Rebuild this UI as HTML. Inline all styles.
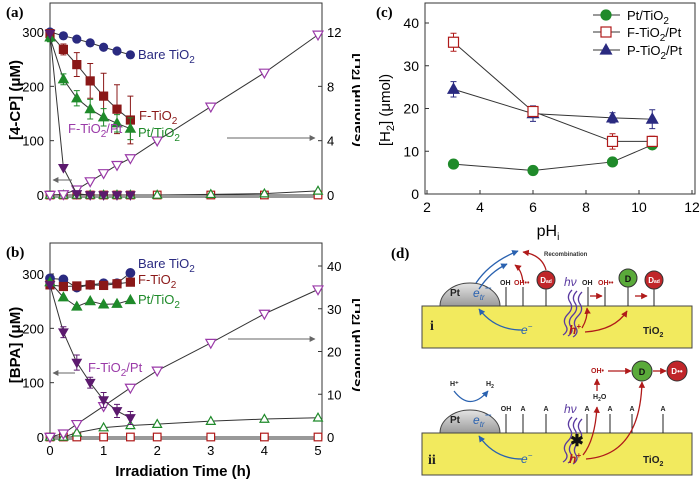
<!DOCTYPE html>
<html><head><meta charset="utf-8"><style>
html,body{margin:0;padding:0;background:#fff}
svg{display:block;font-family:"Liberation Sans",sans-serif}
</style></head><body>
<svg id="fig" width="700" height="485" viewBox="0 0 700 485" xmlns="http://www.w3.org/2000/svg">
<defs>
<clipPath id="clipA"><rect x="0" y="0" width="360" height="240"/></clipPath>
<clipPath id="clipB"><rect x="0" y="240" width="360" height="245"/></clipPath>
<linearGradient id="ptg" x1="0" y1="0" x2="0" y2="1"><stop offset="0" stop-color="#e4e4e4"/><stop offset="1" stop-color="#9a9a9a"/></linearGradient>
<marker id="ab" viewBox="0 0 10 10" refX="9" refY="5" markerWidth="5" markerHeight="5" orient="auto"><path d="M0,0L10,5L0,10z" fill="#2a62b0"/></marker>
<marker id="ar" viewBox="0 0 10 10" refX="9" refY="5" markerWidth="5" markerHeight="5" orient="auto"><path d="M0,0L10,5L0,10z" fill="#b01a1a"/></marker>
<marker id="ag" viewBox="0 0 10 10" refX="9" refY="5" markerWidth="6" markerHeight="6" orient="auto"><path d="M0,0L10,5L0,10z" fill="#666"/></marker>
</defs>
<g id="panelA" clip-path="url(#clipA)"></g>
<g id="panelB" clip-path="url(#clipB)"></g>
<g id="panelC"></g>

<!-- Panel (d) diagram -->
<g font-weight="bold">
<text x="391" y="258" font-family="Liberation Serif,serif" font-size="15">(d)</text>
<rect x="422" y="306" width="270" height="42" fill="#f2ea5e" stroke="#444" stroke-width="1"/>
<path d="M440,306 A30,23 0 0 1 500,306 Z" fill="url(#ptg)" stroke="#444"/>
<text x="450" y="296" font-size="10" fill="#222">Pt</text>
<text x="473" y="297" font-size="12" fill="#2a62b0" font-style="italic" font-weight="normal">e<tspan font-size="8" dy="3">tr</tspan><tspan dy="-8">−</tspan></text>
<g stroke="#222" stroke-width="1">
<line x1="506" y1="306" x2="506" y2="287"/><line x1="523" y1="306" x2="523" y2="287"/><line x1="546" y1="306" x2="546" y2="289"/>
<line x1="588" y1="306" x2="588" y2="287"/><line x1="605" y1="306" x2="605" y2="287"/><line x1="628" y1="306" x2="628" y2="287"/><line x1="654" y1="306" x2="654" y2="289"/>
</g>
<text x="500" y="285" font-size="7" fill="#222">OH</text><text x="514" y="285" font-size="7" fill="#b01a1a">OH••</text>
<text x="582" y="285" font-size="7" fill="#222">OH</text><text x="598" y="285" font-size="7" fill="#b01a1a">OH••</text>
<circle cx="546" cy="280" r="9" fill="#c0262a" stroke="#333"/><text x="546" y="283" font-size="8" fill="#fff" text-anchor="middle">D<tspan font-size="5">ad</tspan></text>
<circle cx="628" cy="278" r="9" fill="#5aaa3a" stroke="#333"/><text x="628" y="282" font-size="9" fill="#111" text-anchor="middle">D</text>
<circle cx="654" cy="280" r="9" fill="#c0262a" stroke="#333"/><text x="654" y="283" font-size="8" fill="#fff" text-anchor="middle">D<tspan font-size="5">ad</tspan></text>
<text x="564" y="286" font-size="12" fill="#5a3aa0" font-style="italic" font-weight="normal">hν</text>
<g fill="none" stroke="#5a3aa0" stroke-width="1.3">
<path d="M572,290 q-6,6 -2,12 q4,6 -2,12 q-6,6 -2,12 q3,5 -3,9"/><path d="M577,291 q-6,6 -2,12 q4,6 -2,12 q-6,6 -2,12 q3,5 -3,9"/><path d="M582,292 q-6,6 -2,12 q4,6 -2,12 q-6,6 -2,12 q3,5 -3,9"/>
</g>
<g fill="none" stroke="#2a62b0" stroke-width="1.3">
<path d="M476,283 Q490,262 518,251" marker-end="url(#ab)"/><path d="M479,289 Q490,272 507,264" marker-end="url(#ab)"/>
<path d="M522,330 Q495,330 479,309" marker-end="url(#ab)"/>
</g>
<g fill="none" stroke="#b01a1a" stroke-width="1.3">
<path d="M546,270 Q542,255 523,252" marker-end="url(#ar)"/><path d="M523,283 Q522,270 515,265" marker-end="url(#ar)"/>
<path d="M590,296 L602,296" marker-end="url(#ar)"/><path d="M635,296 L647,296" marker-end="url(#ar)"/>
<path d="M582,328 Q588,318 587,308" marker-end="url(#ar)"/><path d="M585,332 Q615,330 627,311" marker-end="url(#ar)"/>
</g>
<text x="544" y="256" font-size="6" fill="#333">Recombination</text>
<text x="430" y="330" font-family="Liberation Serif,serif" font-size="14" fill="#222">i</text>
<text x="521" y="334" font-size="12" fill="#2a62b0" font-style="italic" font-weight="normal">e<tspan dy="-5" font-size="8">−</tspan></text>
<text x="569" y="334" font-size="12" fill="#b01a1a" font-style="italic">h<tspan dy="-5" font-size="8">+</tspan></text>
<text x="643" y="334" font-size="10" fill="#222">TiO<tspan dy="3" font-size="7">2</tspan></text>
<rect x="422" y="433" width="270" height="42" fill="#f2ea5e" stroke="#444" stroke-width="1"/>
<path d="M440,433 A30,23 0 0 1 500,433 Z" fill="url(#ptg)" stroke="#444"/>
<text x="450" y="423" font-size="10" fill="#222">Pt</text>
<text x="473" y="424" font-size="12" fill="#2a62b0" font-style="italic" font-weight="normal">e<tspan font-size="8" dy="3">tr</tspan><tspan dy="-8">−</tspan></text>
<text x="450" y="386" font-size="7" fill="#222">H⁺</text><text x="486" y="386" font-size="7" fill="#222">H<tspan font-size="5" dy="2">2</tspan></text>
<path d="M454,391 Q470,412 488,391" fill="none" stroke="#2a62b0" stroke-width="1.3" marker-end="url(#ab)"/>
<g stroke="#222" stroke-width="1">
<line x1="506" y1="433" x2="506" y2="414"/><line x1="523" y1="433" x2="523" y2="414"/><line x1="546" y1="433" x2="546" y2="414"/><line x1="587" y1="433" x2="587" y2="414"/><line x1="610" y1="433" x2="610" y2="414"/><line x1="632" y1="433" x2="632" y2="414"/><line x1="663" y1="433" x2="663" y2="414"/>
</g>
<g font-size="7" fill="#222" text-anchor="middle"><text x="506" y="411">OH</text><text x="523" y="411">A</text><text x="546" y="411">A</text><text x="587" y="411">A</text><text x="610" y="411">A</text><text x="632" y="411">A</text><text x="663" y="411">A</text></g>
<text x="564" y="413" font-size="12" fill="#5a3aa0" font-style="italic" font-weight="normal">hν</text>
<g fill="none" stroke="#5a3aa0" stroke-width="1.3">
<path d="M572,417 q-6,6 -2,12 q4,6 -2,12 q-6,6 -2,12 q3,5 -3,9"/><path d="M577,418 q-6,6 -2,12 q4,6 -2,12 q-6,6 -2,12 q3,5 -3,9"/><path d="M582,419 q-6,6 -2,12 q4,6 -2,12 q-6,6 -2,12 q3,5 -3,9"/>
</g>
<text x="577" y="446" font-size="16" fill="#111" text-anchor="middle">✱</text>
<text x="593" y="399" font-size="7" fill="#222">H<tspan font-size="5" dy="2">2</tspan><tspan dy="-2">O</tspan></text>
<text x="591" y="373" font-size="7" fill="#b01a1a">OH•</text>
<circle cx="642" cy="371" r="10" fill="#5aaa3a" stroke="#333"/><text x="642" y="375" font-size="9" fill="#111" text-anchor="middle">D</text>
<circle cx="677" cy="371" r="10" fill="#c0262a" stroke="#333"/><text x="677" y="374" font-size="8" fill="#fff" text-anchor="middle">D••</text>
<g fill="none" stroke="#b01a1a" stroke-width="1.3">
<path d="M583,455 Q595,440 597,407" marker-end="url(#ar)"/><path d="M597,391 L597,379" marker-end="url(#ar)"/>
<path d="M608,371 L631,371" marker-end="url(#ar)"/><path d="M653,371 L666,371" marker-end="url(#ar)"/>
<path d="M586,459 Q640,455 642,382" marker-end="url(#ar)"/>
</g>
<text x="428" y="464" font-family="Liberation Serif,serif" font-size="14" fill="#222">ii</text>
<text x="521" y="463" font-size="12" fill="#2a62b0" font-style="italic" font-weight="normal">e<tspan dy="-5" font-size="8">−</tspan></text>
<path d="M522,459 Q495,459 479,436" fill="none" stroke="#2a62b0" stroke-width="1.3" marker-end="url(#ab)"/>
<text x="569" y="463" font-size="12" fill="#b01a1a" font-style="italic">h<tspan dy="-5" font-size="8">+</tspan></text>
<text x="643" y="463" font-size="10" fill="#222">TiO<tspan dy="3" font-size="7">2</tspan></text>
</g>
</svg>
<script>
// ---- Panel (a) data ----
const timesA = [0,0.25,0.5,0.75,1,1.25,1.5];
const timesLong = [0,0.25,0.5,0.75,1,1.25,1.5,2,3,4,5];
const a_bare = [300,293,287,280,272,265,258];
const a_F = [297,268,240,210,182,158,138];
const a_Ferr = [0,10,22,32,42,45,44];
const a_Pt = [290,213,178,158,143,132,122];
const a_Pterr = [8,10,14,18,16,16,20];
const a_FPt = [297,50,2,0,0,0,0];
const a_H2_FPt = [0,0.05,0.4,1.0,1.6,2.2,2.7,4.0,6.5,9.0,11.8];
const a_H2_Pt = [0,0,0,0,0,0,0,0,0.05,0.1,0.3];
const a_H2_F = [0,0,0,0,0,0,0,0,0,0,0];
const leftTicksAB = [0,100,200,300];
const rightTicksA = [0,4,8,12];
// ---- Panel (b) data ----
const timesB2 = [0,0.25,0.5,1,1.5,2,3,4,5];
const b_bare = [292,290,275,280,283,283,302];
const b_F = [280,277,278,280,279,282,285];
const b_Pt = [285,257,240,250,244,245,252];
const b_FPt = [280,193,137,100,68,48,35];
const b_FPterr = [0,10,14,10,14,12,12];
const b_H2_FPt = [0,0.8,3.0,7.2,11.5,15.5,22,28.8,34.5];
const b_H2_Pt = [0,0,1.0,2.2,2.7,3.0,3.7,4.2,4.5];
const b_H2_F = [0,0,0,0,0,0,0,0,0];
const rightTicksB = [0,10,20,30,40];
const xTicksB = [0,1,2,3,4,5];
// ---- Panel (c) data ----
const phC = [3,6,9,10.5];
const c_Pt = [7,5.5,7.5,11.5];
const c_F = [35.5,19.3,12.3,12.3];
const c_Ferr = [2.1,0.8,1.8,1.2];
const c_P = [24.5,18.8,17.8,17.5];
const c_Perr = [1.8,1.8,1.2,2.2];
const xTicksC = [2,4,6,8,10,12];
const yTicksC = [0,10,20,30,40];

const NS='http://www.w3.org/2000/svg';
function mk(parent,tag,attrs){const e=document.createElementNS(NS,tag);for(const k in attrs)e.setAttribute(k,attrs[k]);parent.appendChild(e);return e;}
function marker(g,shape,x,y,col,filled,r){
  let e;
  const f=filled?col:'#fff';
  if(shape==='c'){e=mk(g,'circle',{cx:x,cy:y,r:r,fill:f,stroke:col,'stroke-width':1.2});}
  else if(shape==='s'){e=mk(g,'rect',{x:x-r,y:y-r,width:2*r,height:2*r,fill:f,stroke:col,'stroke-width':1.2});}
  else if(shape==='t'){e=mk(g,'path',{d:`M${x},${y-r*1.15}L${x+r*1.1},${y+r*0.8}L${x-r*1.1},${y+r*0.8}Z`,fill:f,stroke:col,'stroke-width':1.2});}
  else {e=mk(g,'path',{d:`M${x},${y+r*1.15}L${x+r*1.1},${y-r*0.8}L${x-r*1.1},${y-r*0.8}Z`,fill:f,stroke:col,'stroke-width':1.2});}
  return e;
}
function series(g,name,xs,ys,sx,sy,shape,col,filled,r,errs,lineCol){
  const grp=mk(g,'g',{});
  
  
  const pts=xs.map((x,i)=>sx(x)+','+sy(ys[i])).join(' ');
  const pl=mk(grp,'polyline',{points:pts,fill:'none',stroke:lineCol||'#333','stroke-width':1});
  
  
  if(errs){xs.forEach((x,i)=>{if(!errs[i])return;const X=sx(x),y1=sy(ys[i]-errs[i]),y2=sy(ys[i]+errs[i]);
    mk(grp,'path',{d:`M${X},${y1}V${y2}M${X-3},${y1}H${X+3}M${X-3},${y2}H${X+3}`,stroke:col,'stroke-width':1,fill:'none'});});}
  xs.forEach((x,i)=>{const m=marker(grp,shape,sx(x),sy(ys[i]),col,filled,r);
    
    });
}
function txt(g,x,y,s,attrs,name){const t=mk(g,'text',Object.assign({x:x,y:y},attrs||{}));t.innerHTML=s;
  
  return t;}
const NAVY='#2a2a80',RED='#8a1818',GRN='#1f8a2a',PUR='#5c1a6e',PURL='#9a3aa8',ORED='#b01a1a';

// ---------- Panel A ----------
(function(){
  const g=document.getElementById('panelA');
  const x0=50,x1=322,ty=3,by=197;
  const sx=t=>50+t*53.6, sy=v=>195-v*0.5433, sy2=v=>195-v*13.58;
  mk(g,'rect',{x:x0,y:ty,width:x1-x0,height:by-ty,fill:'none',stroke:'#333','stroke-width':1});
  txt(g,6,17,'(a)',{'font-family':'Liberation Serif,serif','font-size':15,'font-weight':'bold'},'panel-a-label');
  leftTicksAB.forEach(v=>{mk(g,'line',{x1:x0,x2:x0+4,y1:sy(v),y2:sy(v),stroke:'#333'});
    txt(g,44,sy(v)+5,v,{'font-size':13,'text-anchor':'end'},'y-tick-label');});
  rightTicksA.forEach(v=>{mk(g,'line',{x1:x1,x2:x1-4,y1:sy2(v),y2:sy2(v),stroke:'#333'});
    txt(g,327,sy2(v)+5,v,{'font-size':13},'y2-tick-label');});
  xTicksB.forEach(v=>mk(g,'line',{x1:sx(v),x2:sx(v),y1:by,y2:by-4,stroke:'#333'}));
  txt(g,0,0,'[4-CP] (μM)',{'font-size':15,'font-weight':'bold','text-anchor':'middle',transform:'translate(20,100) rotate(-90)'},'y-axis-title');
  txt(g,0,0,'[H<tspan dy="3" font-size="11">2</tspan><tspan dy="-3">] (μmoles)</tspan>',{'font-size':15,'font-weight':'bold','text-anchor':'middle',transform:'translate(355,100) rotate(90)'},'y2-axis-title');
  series(g,'a-h2-f-tio2',timesLong,a_H2_F,sx,sy2,'s',ORED,false,3.8,null);
  series(g,'a-h2-pt-tio2',timesLong,a_H2_Pt,sx,sy2,'t',GRN,false,4,null);
  series(g,'a-h2-f-tio2-pt',timesLong,a_H2_FPt,sx,sy2,'v',PURL,false,4.5,null);
  series(g,'a-bare-tio2',timesA,a_bare,sx,sy,'c',NAVY,true,4,null);
  series(g,'a-f-tio2',timesA,a_F,sx,sy,'s',RED,true,4,a_Ferr);
  series(g,'a-pt-tio2',timesA,a_Pt,sx,sy,'t',GRN,true,4.3,a_Pterr);
  series(g,'a-f-tio2-pt',timesA,a_FPt,sx,sy,'v',PUR,true,4,null);
  txt(g,138,59,'Bare TiO<tspan dy="4" font-size="10">2</tspan>',{'font-size':13,fill:NAVY},'legend-bare-tio2');
  txt(g,139,120,'F-TiO<tspan dy="4" font-size="10">2</tspan>',{'font-size':13,fill:RED},'legend-f-tio2');
  txt(g,138,137,'Pt/TiO<tspan dy="4" font-size="10">2</tspan>',{'font-size':13,fill:GRN},'legend-pt-tio2');
  txt(g,68,133,'F-TiO<tspan dy="4" font-size="10">2</tspan><tspan dy="-4">/Pt</tspan>',{'font-size':13,fill:PURL},'legend-f-tio2-pt');
  mk(g,'line',{x1:72,y1:180,x2:53,y2:180,stroke:'#666','marker-end':'url(#ag)'});
  mk(g,'line',{x1:227,y1:138,x2:315,y2:138,stroke:'#666','marker-end':'url(#ag)'});
})();

// ---------- Panel B ----------
(function(){
  const g=document.getElementById('panelB');
  const x0=50,x1=322,ty=243,by=439;
  const sx=t=>50+t*53.6, sy=v=>437-v*0.5433, sy2=v=>437-v*4.275;
  mk(g,'rect',{x:x0,y:ty,width:x1-x0,height:by-ty,fill:'none',stroke:'#333','stroke-width':1});
  txt(g,6,257,'(b)',{'font-family':'Liberation Serif,serif','font-size':15,'font-weight':'bold'},'panel-b-label');
  leftTicksAB.forEach(v=>{mk(g,'line',{x1:x0,x2:x0+4,y1:sy(v),y2:sy(v),stroke:'#333'});
    txt(g,44,sy(v)+5,v,{'font-size':13,'text-anchor':'end'},'y-tick-label');});
  rightTicksB.forEach(v=>{mk(g,'line',{x1:x1,x2:x1-4,y1:sy2(v),y2:sy2(v),stroke:'#333'});
    txt(g,327,sy2(v)+5,v,{'font-size':13},'y2-tick-label');});
  xTicksB.forEach(v=>{mk(g,'line',{x1:sx(v),x2:sx(v),y1:by,y2:by-4,stroke:'#333'});
    txt(g,sx(v),455,v,{'font-size':13,'text-anchor':'middle'},'x-tick-label');});
  txt(g,183,476,'Irradiation Time (h)',{'font-size':15,'font-weight':'bold','text-anchor':'middle'},'x-axis-title');
  txt(g,0,0,'[BPA] (μM)',{'font-size':15,'font-weight':'bold','text-anchor':'middle',transform:'translate(20,345) rotate(-90)'},'y-axis-title');
  txt(g,0,0,'[H<tspan dy="3" font-size="11">2</tspan><tspan dy="-3">] (μmoles)</tspan>',{'font-size':15,'font-weight':'bold','text-anchor':'middle',transform:'translate(355,345) rotate(90)'},'y2-axis-title');
  series(g,'b-h2-f-tio2',timesB2,b_H2_F,sx,sy2,'s',ORED,false,3.8,null);
  series(g,'b-h2-pt-tio2',timesB2,b_H2_Pt,sx,sy2,'t',GRN,false,4,null);
  series(g,'b-h2-f-tio2-pt',timesB2,b_H2_FPt,sx,sy2,'v',PURL,false,4.5,null);
  series(g,'b-bare-tio2',timesA,b_bare,sx,sy,'c',NAVY,true,4.3,null);
  series(g,'b-f-tio2',timesA,b_F,sx,sy,'s',RED,true,4,null);
  series(g,'b-pt-tio2',timesA,b_Pt,sx,sy,'t',GRN,true,4.3,null);
  series(g,'b-f-tio2-pt',timesA,b_FPt,sx,sy,'v',PUR,true,4,b_FPterr);
  txt(g,138,268,'Bare TiO<tspan dy="4" font-size="10">2</tspan>',{'font-size':13,fill:NAVY},'legend-bare-tio2');
  txt(g,138,284,'F-TiO<tspan dy="4" font-size="10">2</tspan>',{'font-size':13,fill:RED},'legend-f-tio2');
  txt(g,138,304,'Pt/TiO<tspan dy="4" font-size="10">2</tspan>',{'font-size':13,fill:GRN},'legend-pt-tio2');
  txt(g,88,372,'F-TiO<tspan dy="4" font-size="10">2</tspan><tspan dy="-4">/Pt</tspan>',{'font-size':13,fill:PURL},'legend-f-tio2-pt');
  mk(g,'line',{x1:75,y1:373,x2:53,y2:373,stroke:'#666','marker-end':'url(#ag)'});
  mk(g,'line',{x1:228,y1:339,x2:315,y2:339,stroke:'#666','marker-end':'url(#ag)'});
})();

// ---------- Panel C ----------
(function(){
  const g=document.getElementById('panelC');
  const x0=425,x1=695,ty=3,by=194;
  const sx=v=>427+(v-2)*26.5, sy=v=>194-v*4.275;
  mk(g,'rect',{x:x0,y:ty,width:x1-x0,height:by-ty,fill:'none',stroke:'#333','stroke-width':1});
  txt(g,376,17,'(c)',{'font-family':'Liberation Serif,serif','font-size':15,'font-weight':'bold'},'panel-c-label');
  yTicksC.forEach(v=>{mk(g,'line',{x1:x0,x2:x0+4,y1:sy(v),y2:sy(v),stroke:'#333'});
    txt(g,419,sy(v)+5,v,{'font-size':14,'text-anchor':'end'},'y-tick-label');});
  xTicksC.forEach(v=>{mk(g,'line',{x1:sx(v),x2:sx(v),y1:by,y2:by-4,stroke:'#333'});
    txt(g,sx(v),212,v,{'font-size':14,'text-anchor':'middle'},'x-tick-label');});
  txt(g,548,236,'pH<tspan dy="4" font-size="10">i</tspan>',{'font-size':16,'text-anchor':'middle'},'x-axis-title');
  txt(g,0,0,'[H<tspan dy="4" font-size="11">2</tspan><tspan dy="-4">] (μmol)</tspan>',{'font-size':15,'text-anchor':'middle',transform:'translate(390,110) rotate(-90)'},'y-axis-title');
  series(g,'c-pt-tio2',phC,c_Pt,sx,sy,'c',GRN,true,5,null);
  series(g,'c-p-tio2-pt',phC,c_P,sx,sy,'t',NAVY,true,5,c_Perr,'#333');
  series(g,'c-f-tio2-pt',phC,c_F,sx,sy,'s',ORED,false,5,c_Ferr);
  const leg=[['Pt/TiO<tspan dy="4" font-size="10">2</tspan>','c',GRN,true,15],['F-TiO<tspan dy="4" font-size="10">2</tspan><tspan dy="-4">/Pt</tspan>','s',ORED,false,32],['P-TiO<tspan dy="4" font-size="10">2</tspan><tspan dy="-4">/Pt</tspan>','t',NAVY,true,50]];
  leg.forEach(l=>{const lg=mk(g,'g',{});
    
    
    mk(lg,'line',{x1:593,x2:620,y1:l[4],y2:l[4],stroke:'#333'});
    marker(lg,l[1],606,l[4],l[2],l[3],5);
    txt(lg,627,l[4]+5,l[0],{'font-size':13},'legend-label');});
})();
</script>
</body></html>
